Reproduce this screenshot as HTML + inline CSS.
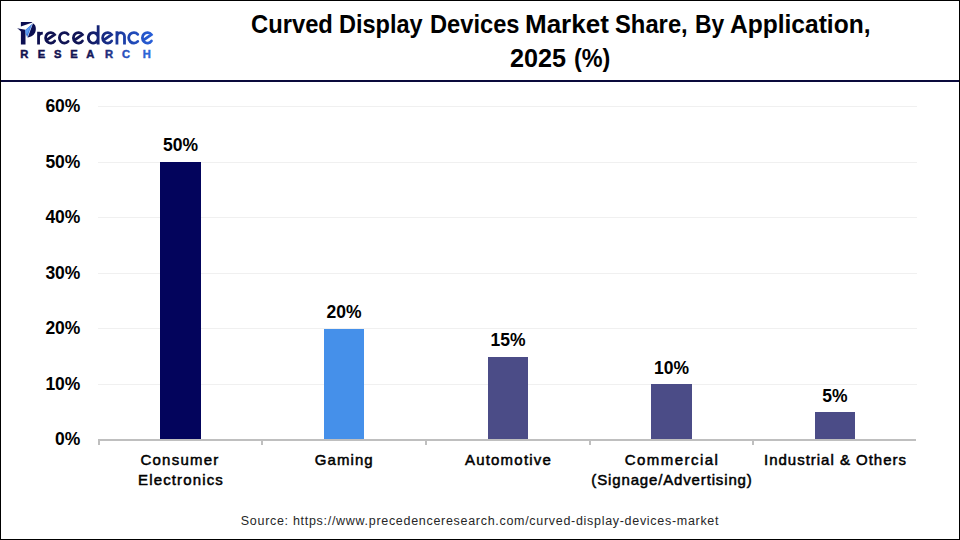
<!DOCTYPE html>
<html><head><meta charset="utf-8">
<style>
*{margin:0;padding:0;box-sizing:border-box}
html,body{width:960px;height:540px;overflow:hidden;background:#fff}
body{position:relative;font-family:"Liberation Sans",sans-serif;color:#000}
#frame{position:absolute;left:0;top:0;width:960px;height:540px;border:1px solid #000}
#sep{position:absolute;left:1px;top:80px;width:958px;height:2px;background:#0a0a3c}
.t{position:absolute;white-space:nowrap;line-height:1}
.tw{position:absolute;font-weight:bold;font-size:25px;line-height:1;white-space:nowrap;transform-origin:0 0;color:#000}
.grid{position:absolute;left:98px;width:819px;height:1px;background:#f0f0f0}
#axis{position:absolute;left:98px;top:439px;width:818px;height:2px;background:#bfbfbf}
.tick{position:absolute;top:439px;width:2px;height:6px;background:#bfbfbf}
.yl{position:absolute;right:879.6px;font-weight:bold;font-size:17.5px;line-height:1;text-align:right}
.bar{position:absolute;width:41px}
.dl{position:absolute;width:100px;text-align:center;font-weight:bold;font-size:17.5px;line-height:1}
.cl{position:absolute;width:180px;text-align:center;font-weight:normal;-webkit-text-stroke:0.5px #000;font-size:15px;line-height:20px;letter-spacing:0.3px}
#src{position:absolute;left:0;width:960px;text-align:center;top:515px;font-size:12.5px;line-height:1;letter-spacing:0.7px;color:#262626}
</style></head><body>
<div id="frame"></div>

<svg width="170" height="70" style="position:absolute;left:0;top:0" viewBox="0 0 170 70">
  <defs>
    <linearGradient id="g1" gradientUnits="userSpaceOnUse" x1="37" y1="0" x2="154" y2="0">
      <stop offset="0" stop-color="#0f1150"/>
      <stop offset="0.4" stop-color="#111556"/>
      <stop offset="0.55" stop-color="#16277c"/>
      <stop offset="0.75" stop-color="#1c3fa8"/>
      <stop offset="1" stop-color="#2a62dc"/>
    </linearGradient>
    <linearGradient id="g2" gradientUnits="userSpaceOnUse" x1="20" y1="0" x2="151" y2="0">
      <stop offset="0" stop-color="#10124f"/>
      <stop offset="0.52" stop-color="#121655"/>
      <stop offset="0.66" stop-color="#1a2c7a"/>
      <stop offset="0.79" stop-color="#2650bc"/>
      <stop offset="1" stop-color="#2e68da"/>
    </linearGradient>
  </defs>
  <path d="M20.9,21.9 L31.9,21.9 L32.4,22.6 L20.9,26.4 Z" fill="#0c0f52"/>
  <path d="M32.9,23.3 C35.8,24.8 36.3,28.2 35.6,31.1 C34.7,35 31.4,37.2 27.5,37.6 Z" fill="#0c0f52"/>
  <path d="M17.1,28.2 L25.4,29.8 L25.5,33.5 L25.5,44.5 L20.9,44.5 L20.9,31.6 C19.8,30.2 18.6,29.2 17.1,28.2 Z" fill="#0c0f52"/>
  <path d="M25.3,29.9 L32.5,23.6 L27.3,37.5 L25.6,33.5 Z" fill="#3576e0"/>
  <path d="M25.6,30.2 L31.2,25.3 L26.8,34.8 L25.8,32.8 Z" fill="#5c9cf2"/>
  <path d="M32.6,23.4 L27.4,37.4" stroke="#b8d0f5" stroke-width="0.5" fill="none"/>
  <g fill="none" stroke="url(#g1)" stroke-width="2.8" stroke-linecap="round">
    <path d="M38.55,44.50 V31.80 M38.55,36.5 C38.7,34 39.8,33.1 42.8,33.1" stroke-linecap="butt"/>
    <path d="M54.65,40.94 A5.0,5.25 0 1 1 54.54,34.62 L46.27,40.48"/>
    <path d="M68.12,34.34 A5.0,5.25 0 1 0 68.12,41.36"/>
    <path d="M82.45,40.94 A5.0,5.25 0 1 1 82.34,34.62 L74.07,40.48"/>
    <path d="M98.15,25.2 V44.50 M98.15,37.85 A4.9,5.25 0 1 0 98.15,37.86" stroke-linecap="butt"/>
    <path d="M111.65,40.94 A5.0,5.25 0 1 1 111.54,34.62 L103.27,40.48"/>
    <path d="M116.95,31.20 V44.50 M116.95,36.38 A3.77,3.77 0 0 1 124.5,36.38 V44.50" stroke-linecap="butt"/>
    <path d="M137.76,34.34 A5.2,5.25 0 1 0 137.76,41.36"/>
    <path d="M151.45,40.94 A5.0,5.25 0 1 1 151.34,34.62 L143.07,40.48"/>
  </g>
  <text y="57.6" font-family="Liberation Sans" font-weight="bold" font-size="11.2" fill="url(#g2)" stroke="url(#g2)" stroke-width="0.45" x="20.2 37.8 54.0 70.3 86.2 105.0 122.0 142.8">RESEARCH</text>
</svg>

<div id="sep"></div>
<div class="tw" style="left:251.35px;top:12px;transform:scaleX(0.9506)">Curved</div>
<div class="tw" style="left:339.22px;top:12px;transform:scaleX(0.9402)">Display</div>
<div class="tw" style="left:429.81px;top:12px;transform:scaleX(0.9473)">Devices</div>
<div class="tw" style="left:525.22px;top:12px;transform:scaleX(1.0397)">Market</div>
<div class="tw" style="left:615.35px;top:12px;transform:scaleX(0.9514)">Share,</div>
<div class="tw" style="left:694.87px;top:12px;transform:scaleX(0.9167)">By</div>
<div class="tw" style="left:729.82px;top:12px;transform:scaleX(0.9821)">Application,</div>
<div class="tw" style="left:509.99px;top:46px;transform:scaleX(1.0074)">2025</div>
<div class="tw" style="left:573.66px;top:46px;transform:scaleX(0.9351)">(%)</div>

<div class="grid" style="top:106px"></div>
<div class="grid" style="top:162px"></div>
<div class="grid" style="top:217px"></div>
<div class="grid" style="top:273px"></div>
<div class="grid" style="top:328px"></div>
<div class="grid" style="top:384px"></div>

<div class="yl" style="top:98px">60%</div>
<div class="yl" style="top:154px">50%</div>
<div class="yl" style="top:209px">40%</div>
<div class="yl" style="top:265px">30%</div>
<div class="yl" style="top:320px">20%</div>
<div class="yl" style="top:376px">10%</div>
<div class="yl" style="top:431px">0%</div>

<div class="bar" style="left:160px;top:162px;height:277px;width:41px;background:#03045c"></div>
<div class="bar" style="left:324px;top:329px;height:110px;width:40px;background:#4590ea"></div>
<div class="bar" style="left:488px;top:357px;height:82px;width:40px;background:#4b4c87"></div>
<div class="bar" style="left:651px;top:384px;height:55px;width:41px;background:#4b4c87"></div>
<div class="bar" style="left:815px;top:412px;height:27px;width:40px;background:#4b4c87"></div>

<div class="dl" style="left:130.5px;top:137px">50%</div>
<div class="dl" style="left:294px;top:304px">20%</div>
<div class="dl" style="left:458px;top:332px">15%</div>
<div class="dl" style="left:621.5px;top:360px">10%</div>
<div class="dl" style="left:785px;top:388px">5%</div>

<div id="axis"></div>
<div class="tick" style="left:98px"></div>
<div class="tick" style="left:261px"></div>
<div class="tick" style="left:425px"></div>
<div class="tick" style="left:589px"></div>
<div class="tick" style="left:752px"></div>

<div class="cl" style="left:90px;top:450px"><span style="letter-spacing:1.24px">Consumer</span><br><span style="letter-spacing:1.14px;position:relative;left:1px">Electronics</span></div>
<div class="cl" style="left:254.3px;top:450px;letter-spacing:1.06px">Gaming</div>
<div class="cl" style="left:418.5px;top:450px;letter-spacing:1.21px">Automotive</div>
<div class="cl" style="left:582px;top:450px"><span style="letter-spacing:1.45px">Commercial</span><br><span style="letter-spacing:0.85px">(Signage/Advertising)</span></div>
<div class="cl" style="left:745.5px;top:450px;letter-spacing:0.99px">Industrial &amp; Others</div>

<div id="src">Source: https://www.precedenceresearch.com/curved-display-devices-market</div>
</body></html>
